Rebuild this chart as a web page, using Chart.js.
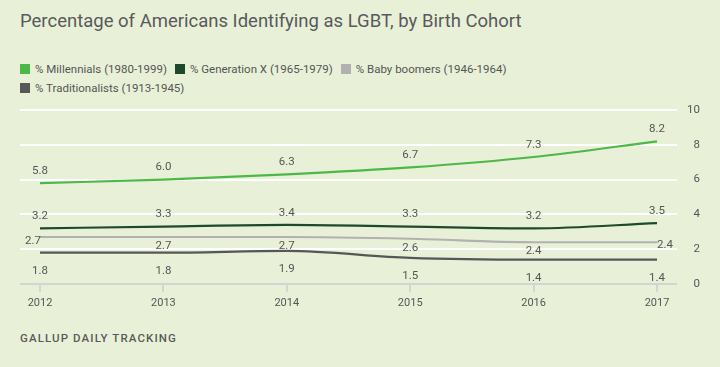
<!DOCTYPE html>
<html>
<head>
<meta charset="utf-8">
<script src="https://cdn.jsdelivr.net/npm/chart.js@4"></script>
<style>
  html, body { margin: 0; padding: 0; }
  body { width: 720px; height: 367px; background: #e8f1d8; position: relative; overflow: hidden; font-family: Roboto, "Liberation Sans", sans-serif; color: #555; }
  #title { position: absolute; left: 20px; top: 10px; font-size: 18.5px; color: #58595b; white-space: nowrap; }
  #legend { position: absolute; left: 20px; top: 59px; width: 530px; display: flex; flex-wrap: wrap; font-size: 11.5px; color: #555; }
  .item { display: flex; align-items: center; height: 19px; margin-right: 8px; white-space: nowrap; }
  .box { width: 10px; height: 10px; margin-right: 5px; }
  #footer { position: absolute; left: 20px; top: 331px; font-size: 11.5px; font-weight: 500; letter-spacing: 1.1px; color: #5a5a5a; }
  #wrap { position: absolute; left: 0; top: 0; width: 720px; height: 367px; }
</style>
</head>
<body>
<div id="title">Percentage of Americans Identifying as LGBT, by Birth Cohort</div>
<div id="legend"></div>
<div id="footer">GALLUP DAILY TRACKING</div>
<div id="wrap"><canvas id="c" width="720" height="367"></canvas></div>
<script>
const years = ['2012', '2013', '2014', '2015', '2016', '2017'];
const yTicks = [0, 2, 4, 6, 8, 10];
const seriesNames = ['% Millennials (1980-1999)', '% Generation X (1965-1979)', '% Baby boomers (1946-1964)', '% Traditionalists (1913-1945)'];
const millennials = [5.8, 6.0, 6.3, 6.7, 7.3, 8.2];
const genX = [3.2, 3.3, 3.4, 3.3, 3.2, 3.5];
const babyBoomers = [2.7, 2.7, 2.7, 2.6, 2.4, 2.4];
const traditionalists = [1.8, 1.8, 1.9, 1.5, 1.4, 1.4];

const colors = ['#4cb848', '#1d4a2a', '#b1b1b1', '#575757'];
const labelMode = ['above', 'above', 'boomer', 'below'];
const allSeries = [millennials, genX, babyBoomers, traditionalists];

const legend = document.getElementById('legend');
seriesNames.forEach((n, i) => {
  const it = document.createElement('div');
  it.className = 'item';
  const b = document.createElement('span');
  b.className = 'box';
  b.style.background = colors[i];
  it.appendChild(b);
  it.appendChild(document.createTextNode(n));
  legend.appendChild(it);
});

const datasets = allSeries.map((vals, i) => ({
  label: seriesNames[i],
  data: vals.map((v, j) => ({ x: Number(years[j]), y: v })),
  borderColor: colors[i],
  backgroundColor: colors[i],
  borderWidth: 2.2,
  pointRadius: 0,
  cubicInterpolationMode: 'monotone',
  labelMode: labelMode[i]
}));

const valueLabels = {
  id: 'valueLabels',
  afterDatasetsDraw(chart) {
    const ctx = chart.ctx;
    ctx.save();
    ctx.font = '11.5px Roboto, "Liberation Sans", sans-serif';
    ctx.fillStyle = '#555';
    ctx.textBaseline = 'middle';
    chart.data.datasets.forEach((ds, di) => {
      const meta = chart.getDatasetMeta(di);
      meta.data.forEach((pt, j) => {
        const txt = ds.data[j].y.toFixed(1);
        let x = pt.x, y = pt.y;
        ctx.textAlign = 'center';
        if (ds.labelMode === 'above') { y -= 12; }
        else if (ds.labelMode === 'below') { y += 18; }
        else {
          if (j === 0) { x -= 7; y += 4; }
          else if (j === meta.data.length - 1) { x += 8; y += 3; }
          else { y += 9; }
        }
        ctx.fillText(txt, x, y);
      });
    });
    ctx.restore();
  }
};

new Chart(document.getElementById('c'), {
  type: 'line',
  data: { datasets },
  options: {
    responsive: false,
    animation: false,
    layout: { padding: { left: 20, right: 20, top: 110, bottom: 53 } },
    plugins: { legend: { display: false }, title: { display: false }, tooltip: { enabled: false } },
    scales: {
      x: {
        type: 'linear',
        min: 2011.838,
        max: 2017.162,
        afterBuildTicks: (ax) => { ax.ticks = years.map(v => ({ value: Number(v) })); },
        afterFit: (ax) => { ax.height = 30; },
        grid: { drawOnChartArea: false, drawTicks: true, tickLength: 8, color: '#d4d4d4', lineWidth: 2 },
        border: { display: false },
        ticks: { padding: 5, color: '#555', font: { family: 'Roboto', size: 11 }, callback: (v) => String(v), maxRotation: 0 }
      },
      y: {
        position: 'right',
        min: 0,
        max: 10,
        afterBuildTicks: (ax) => { ax.ticks = yTicks.map(v => ({ value: v })); },
        afterFit: (ax) => { ax.width = 23; },
        grid: { drawTicks: false, color: (c) => c.tick && c.tick.value === 0 ? '#d4d4d4' : '#ffffff', lineWidth: 2 },
        border: { display: false },
        ticks: { crossAlign: 'far', padding: 0, color: '#555', font: { family: 'Roboto', size: 11.5 } }
      }
    }
  },
  plugins: [valueLabels]
});
</script>
</body>
</html>
